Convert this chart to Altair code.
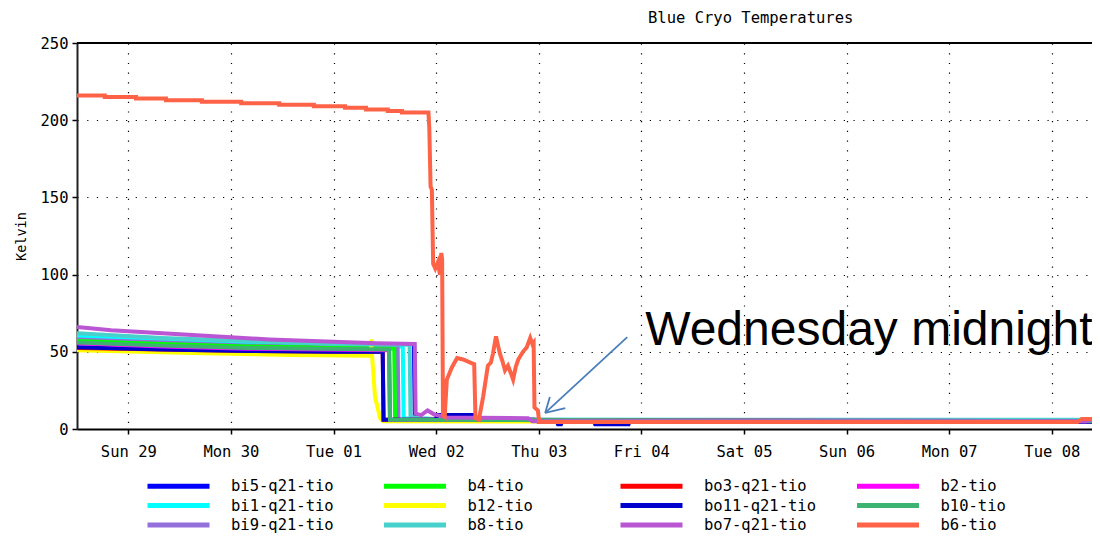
import altair as alt
import pandas as pd

START = pd.Timestamp("2009-11-28 12:00")   # left edge of the plot (Sat 28, noon)

# ---- series: hours since START, temperature in kelvin ----
bi5_h = [0, 30, 60, 78.8, 79.0, 84, 240]
bi5_k = [55.5, 55, 55, 55, 6, 5.5, 5]
bi1_h = [0, 20, 40, 60, 76.2, 76.4, 90, 240]
bi1_k = [60, 57.5, 55.5, 54, 53.5, 7, 6, 5.5]
bi9_h = [0, 20, 40, 60, 75.0, 75.2, 240]
bi9_k = [58, 56, 54, 53, 52.5, 6, 5]
b4_h = [0, 20, 40, 74.2, 74.4, 240]
b4_k = [57, 55, 53.5, 52, 6, 5]
b12_h = [0, 15, 30, 50, 68.7, 68.8, 69.0, 69.7, 70.9, 71.6, 240]
b12_k = [51, 50, 49, 48, 47.5, 58, 48, 21, 7, 5, 4.5]
b8_h = [0, 20, 40, 60, 77.8, 78.0, 80, 84, 108, 240]
b8_k = [62, 59, 57, 55, 54.5, 8, 7, 6.5, 6, 6]
bo3_h = [0, 20, 40, 60, 71.5, 71.7, 84, 84.2, 92.4, 92.6, 240]
bo3_k = [52.5, 51.5, 50.5, 50, 50, 6, 6, 9, 9, 6, 4.5]
bo11_h = [0, 20, 40, 60, 71.5, 71.7, 84, 84.2, 92.4, 92.6, 107, 108,
          112.3, 112.5, 113.2, 113.4, 121, 121.2, 129, 129.2, 240]
bo11_k = [53, 51.5, 50.5, 50, 50, 6, 6, 9, 9, 6, 6, 4.5,
          4.5, 3, 3, 4.5, 4.5, 3, 3, 4.5, 4.5]
b2_h = [0, 20, 40, 73.0, 73.2, 240]
b2_k = [55.5, 53.5, 52, 51, 6, 5]
b10_h = [0, 20, 40, 73.0, 73.2, 240]
b10_k = [56, 54, 52.5, 51.5, 6, 5]
bo7_h = [0, 8, 20, 32, 45, 60, 70, 79.0, 79.2, 80.5, 82.0, 83.5, 85.0, 86.5,
         105.5, 106.5, 236, 237, 240]
bo7_k = [66, 64, 62, 60, 58, 56.5, 55.5, 55, 10, 9, 12, 9.5, 8.5, 7.5,
         7, 5, 5, 6, 6]
b6_h = [0, 6.5, 6.5, 13.8, 13.8, 20.8, 20.8, 29.2, 29.2, 38.4,
        38.4, 47.3, 47.3, 55.4, 55.4, 62.7, 62.7, 67.6, 67.6, 72.7,
        72.7, 76.0, 76.0, 82.2, 82.4, 82.7, 83.0, 83.3, 83.8, 84.4,
        84.9, 85.2, 85.4, 85.6, 86.0, 86.5, 87.7, 88.9, 90.3, 92.4,
        92.9, 93.2, 94.0, 95.0, 96.1, 96.8, 97.3, 98.0, 98.4, 98.9,
        99.5, 100.1, 100.8, 101.5, 102.0, 102.6, 103.2, 104.3, 105.2, 106.0,
        106.5, 106.8, 107.0, 107.8, 108.1, 234, 235, 240]
b6_k = [216, 216, 215, 215, 214, 214, 213, 213, 212, 212,
        211, 211, 210, 210, 209, 209, 208, 208, 207, 207,
        206, 206, 205, 205, 195, 157, 155, 107, 104, 108,
        100, 114, 110, 9, 8, 32, 40, 46, 45, 42.5,
        42, 7, 6, 21, 41, 43, 49, 60, 55, 49,
        44, 38, 41, 36, 32, 40, 45, 50, 53, 59,
        55, 56, 14, 12, 4.5, 4.5, 6.5, 6.5]

# drawing order (last is on top)
draw_order = [
    ("bi5-q21-tio", bi5_h, bi5_k),
    ("bi1-q21-tio", bi1_h, bi1_k),
    ("bi9-q21-tio", bi9_h, bi9_k),
    ("b4-tio", b4_h, b4_k),
    ("b12-tio", b12_h, b12_k),
    ("b8-tio", b8_h, b8_k),
    ("bo3-q21-tio", bo3_h, bo3_k),
    ("bo11-q21-tio", bo11_h, bo11_k),
    ("b2-tio", b2_h, b2_k),
    ("b10-tio", b10_h, b10_k),
    ("bo7-q21-tio", bo7_h, bo7_k),
    ("b6-tio", b6_h, b6_k),
]

# legend (filled column by column, 3 rows x 4 columns) and colours
legend_names = ["bi5-q21-tio", "bi1-q21-tio", "bi9-q21-tio",
                "b4-tio", "b12-tio", "b8-tio",
                "bo3-q21-tio", "bo11-q21-tio", "bo7-q21-tio",
                "b2-tio", "b10-tio", "b6-tio"]
legend_colors = ["#0000FF", "#00FFFF", "#9370DB",
                 "#00FF00", "#FFFF00", "#48D1CC",
                 "#FF0000", "#0000CD", "#BA55D3",
                 "#FF00FF", "#3CB371", "#FF6347"]

# title and annotation
title_text = "Blue Cryo Temperatures"
note_text = ["Wednesday midnight"]
note_h = [132.9]
note_k = [54.4]
arrow_from_h = [128.7, 110.6, 114.2]
arrow_from_k = [59.5, 20.7, 13.6]
arrow_tip_h = [109.5, 109.5, 109.5]
arrow_tip_k = [10.4, 10.4, 10.4]

y_ticks = [0, 25, 50, 75, 100, 125, 150, 175, 200, 225, 250]

# ---- build tables ----
rows = []
for name, hs, ks in draw_order:
    for h, k in zip(hs, ks):
        rows.append({"series": name, "time": START + pd.Timedelta(hours=h), "K": k})
df = pd.DataFrame(rows)

note_df = pd.DataFrame({"text": note_text,
                        "time": [START + pd.Timedelta(hours=h) for h in note_h],
                        "K": note_k})
arrow_df = pd.DataFrame({
    "t1": [START + pd.Timedelta(hours=h) for h in arrow_from_h],
    "k1": arrow_from_k,
    "t2": [START + pd.Timedelta(hours=h) for h in arrow_tip_h],
    "k2": arrow_tip_k,
})

W, H = 1015, 386
MONO = "DejaVu Sans Mono"

x_scale = alt.Scale(domain=[alt.DateTime(year=2009, month=11, date=28, hours=12),
                            alt.DateTime(year=2009, month=12, date=8, hours=9, minutes=24)])
y_scale = alt.Scale(domain=[0, 250], nice=False)

x_axis = alt.Axis(
    title=None, format="%a %d",
    tickCount={"interval": "day", "step": 1},
    labelFont=MONO, labelFontSize=15.5, labelColor="#000", labelPadding=10,
    labelFlush=False,
    domainColor="#000", domainWidth=2, tickColor="#000", tickWidth=1.5, tickSize=5,
    grid=True, gridColor="#000", gridDash=[1.2, 8.5], gridWidth=1.2, gridOpacity=1,
)
y_axis = alt.Axis(
    title="Kelvin", values=y_ticks,
    labelExpr="datum.value % 50 == 0 ? datum.label : ''",
    labelFont=MONO, labelFontSize=15.5, labelColor="#000", labelPadding=4,
    titleFont=MONO, titleFontSize=13.5, titleFontWeight="normal", titleColor="#000",
    titlePadding=12,
    domainColor="#222", domainWidth=2, tickColor="#000", tickWidth=1.5, tickSize=5,
    grid=True, gridColor="#000", gridDash=[1.2, 8.5], gridWidth=1.2,
    gridOpacity={"condition": {"test": "datum.value % 50 != 0", "value": 0}, "value": 1},
)

lines = alt.Chart(df).mark_line(strokeWidth=4, clip=True).encode(
    x=alt.X("time:T", scale=x_scale, axis=x_axis),
    y=alt.Y("K:Q", scale=y_scale, axis=y_axis),
    color=alt.Color(
        "series:N",
        scale=alt.Scale(domain=legend_names, range=legend_colors),
        legend=alt.Legend(
            title=None, orient="none", legendX=68, legendY=435,
            columns=4, columnPadding=38.5, rowPadding=2.5, gridAlign="all",
            symbolType="stroke", symbolSize=3844, symbolStrokeWidth=5,
            clipHeight=16, padding=0,
            labelFont=MONO, labelFontSize=15.5, labelColor="#000", labelOffset=19,
            labelLimit=200,
        ),
    ),
    detail="series:N",
)

frame_top = alt.Chart(pd.DataFrame({"k": [250]})).mark_rule(
    color="#000", strokeWidth=2
).encode(y=alt.Y("k:Q", scale=y_scale), x=alt.value(0), x2=alt.value(W))

title = alt.Chart(pd.DataFrame({"t": [title_text]})).mark_text(
    align="left", baseline="alphabetic", font=MONO, fontSize=15.5, color="#000"
).encode(x=alt.value(571), y=alt.value(-20), text="t:N")

arrow = alt.Chart(arrow_df).mark_rule(color="#4A7EBB", strokeWidth=1.8).encode(
    x=alt.X("t1:T", scale=x_scale), y=alt.Y("k1:Q", scale=y_scale),
    x2="t2:T", y2="k2:Q",
)

note = alt.Chart(note_df).mark_text(
    align="left", baseline="alphabetic", font="Liberation Sans", fontSize=48, color="#000"
).encode(x=alt.X("time:T", scale=x_scale), y=alt.Y("K:Q", scale=y_scale), text="text:N")

chart = alt.layer(lines, frame_top, title, arrow, note).properties(
    width=W, height=H,
    autosize=alt.AutoSizeParams(type="none"),
    padding={"left": 69, "top": 35, "right": 0, "bottom": 106},
).configure_view(stroke=None).configure(background="white")

chart.save("out.html", embed_options={"renderer": "svg", "actions": False})
